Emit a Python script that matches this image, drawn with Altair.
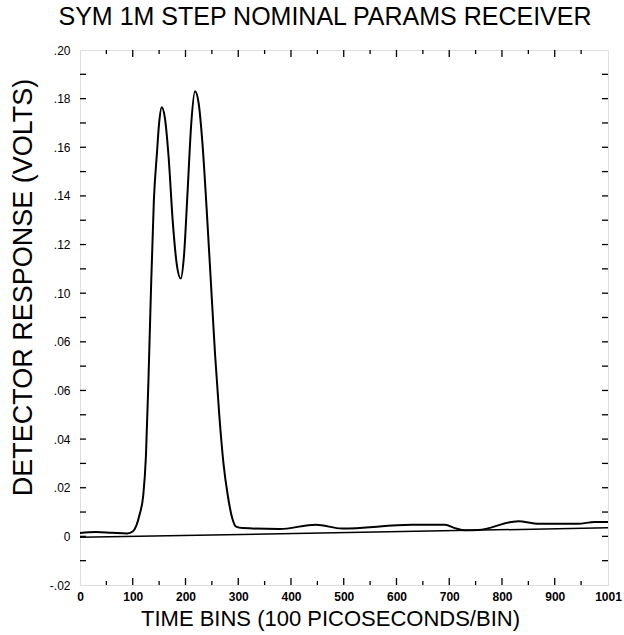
import altair as alt
import pandas as pd

# ---- data ----
time_bins = [0, 30, 60, 90, 100, 107, 113, 120, 125, 130, 134, 140, 146, 150, 155,
             161, 168, 176, 184, 191, 197, 204, 211, 218, 225, 232, 240, 248, 256, 264,
             272, 280, 288, 296, 308, 378, 447, 497, 629, 692, 711, 730, 755, 818, 831,
             869, 944, 976, 1001]
response = [0.0014, 0.0018, 0.0015, 0.0012, 0.0020, 0.0045, 0.0090, 0.0170, 0.0330, 0.0660,
            0.0970, 0.1380, 0.1580, 0.1700, 0.1765, 0.1720, 0.1560, 0.1290, 0.1110, 0.1060,
            0.1150, 0.1420, 0.1700, 0.1830, 0.1780, 0.1620, 0.1350, 0.1050, 0.0750, 0.0500,
            0.0300, 0.0170, 0.0080, 0.0040, 0.0034, 0.0030, 0.0048, 0.0032, 0.0048, 0.0048,
            0.0034, 0.0025, 0.0026, 0.0059, 0.0062, 0.0052, 0.0052, 0.0059, 0.0059]

ref_bins = [0, 1001]
ref_response = [-0.0004, 0.0035]

y_tick_values = [-0.02, 0.0, 0.02, 0.04, 0.06, 0.08, 0.10, 0.12, 0.14, 0.16, 0.18, 0.20]
y_tick_labels = ["-.02", "0", ".02", ".04", ".06", ".06", ".10", ".12", ".14", ".16", ".18", ".20"]
x_tick_values = [0, 100, 200, 300, 400, 500, 600, 700, 800, 900, 1001]
x_tick_labels = ["0", "100", "200", "300", "400", "500", "600", "700", "800", "900", "1001"]
x_major_ticks = [100, 200, 300, 400, 500, 600, 700, 800, 900]
x_minor_ticks = [50, 150, 250, 350, 450, 550, 650, 750, 850, 950]
y_ticks = [-0.01, 0.0, 0.01, 0.02, 0.03, 0.04, 0.05, 0.06, 0.07, 0.08, 0.09, 0.10,
           0.11, 0.12, 0.13, 0.14, 0.15, 0.16, 0.17, 0.18, 0.19]

W, H = 528, 535
FONT = "Liberation Sans"

curve_df = pd.DataFrame({"bin": time_bins, "v": response})
ref_df = pd.DataFrame({"bin": ref_bins, "v": ref_response})
xmaj_df = pd.DataFrame({"bin": x_major_ticks})
xmin_df = pd.DataFrame({"bin": x_minor_ticks})
yt_df = pd.DataFrame({"v": y_ticks})

y_label_expr = "[" + ",".join("'%s'" % s for s in y_tick_labels) + "][round((datum.value + 0.02) / 0.02)]"
x_label_expr = "[" + ",".join("'%s'" % s for s in x_tick_labels) + "][indexof(" + \
    "[" + ",".join(str(v) for v in x_tick_values) + "], datum.value)]"

xscale = alt.Scale(domain=[0, 1001], nice=False, zero=False)
yscale = alt.Scale(domain=[-0.02, 0.20], nice=False, zero=False)

x_axis = alt.Axis(
    values=x_tick_values, labelExpr=x_label_expr, title="TIME BINS (100 PICOSECONDS/BIN)",
    domain=False, ticks=False, grid=False, labelFont=FONT, labelFontSize=12,
    labelFontWeight="bold", labelColor="black", labelPadding=6, labelFlush=False,
    titleFont=FONT, titleFontSize=22, titleFontWeight="normal", titleColor="black",
    titleX=250, titleY=23, titleBaseline="top", titleAlign="center",
)
y_axis = alt.Axis(
    values=y_tick_values, labelExpr=y_label_expr, title="DETECTOR RESPONSE (VOLTS)",
    domain=False, ticks=False, grid=False, labelFont=FONT, labelFontSize=12,
    labelColor="black", labelPadding=10, labelFlush=False,
    titleFont=FONT, titleFontSize=27, titleFontWeight="normal", titleColor="black",
    titleX=-57, titleY=237, titleBaseline="middle", titleAlign="center", titleAngle=-90,
)

curve = alt.Chart(curve_df).mark_line(color="black", strokeWidth=2, interpolate="monotone").encode(
    x=alt.X("bin:Q", scale=xscale, axis=x_axis),
    y=alt.Y("v:Q", scale=yscale, axis=y_axis),
)
ref_line = alt.Chart(ref_df).mark_line(color="black", strokeWidth=1.5).encode(
    x=alt.X("bin:Q", scale=xscale),
    y=alt.Y("v:Q", scale=yscale),
)

tick_style = dict(color="black", strokeWidth=1.3)
xmaj_bottom = alt.Chart(xmaj_df).mark_rule(**tick_style).encode(
    x=alt.X("bin:Q", scale=xscale), y=alt.value(H), y2=alt.value(H - 7))
xmin_bottom = alt.Chart(xmin_df).mark_rule(**tick_style).encode(
    x=alt.X("bin:Q", scale=xscale), y=alt.value(H), y2=alt.value(H - 4))
xmaj_top = alt.Chart(xmaj_df).mark_rule(**tick_style).encode(
    x=alt.X("bin:Q", scale=xscale), y=alt.value(0), y2=alt.value(7))
xmin_top = alt.Chart(xmin_df).mark_rule(**tick_style).encode(
    x=alt.X("bin:Q", scale=xscale), y=alt.value(0), y2=alt.value(4))
y_left = alt.Chart(yt_df).mark_rule(**tick_style).encode(
    y=alt.Y("v:Q", scale=yscale), x=alt.value(0), x2=alt.value(6))
y_right = alt.Chart(yt_df).mark_rule(**tick_style).encode(
    y=alt.Y("v:Q", scale=yscale), x=alt.value(W), x2=alt.value(W - 6))

chart = alt.layer(
    curve, ref_line, xmaj_bottom, xmin_bottom, xmaj_top, xmin_top, y_left, y_right
).properties(
    width=W, height=H,
    autosize=alt.AutoSizeParams(type="none"),
    padding={"left": 80, "top": 50, "right": 16, "bottom": 50},
    title=alt.TitleParams(
        text="SYM 1M STEP NOMINAL PARAMS RECEIVER", font=FONT, fontSize=25,
        fontWeight="normal", color="black", anchor="middle", dx=-19, offset=14,
    ),
).configure_view(stroke="black", strokeWidth=1.6).configure(background="white")

chart.save("out.html", embed_options={"renderer": "svg", "actions": False})
